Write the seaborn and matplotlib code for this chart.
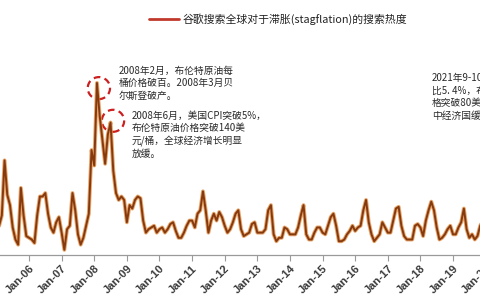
import numpy as np
import pandas as pd
import matplotlib
matplotlib.use("Agg")
import matplotlib.pyplot as plt
from matplotlib.lines import Line2D
from matplotlib.patches import Ellipse
import seaborn as sns

# Monthly search heat, starting Jan-2005
heat = [16, 17, 23, 55, 35, 29, 16, 9, 6, 39, 23, 11,
        10, 9, 7, 23, 34, 34, 36, 24, 16, 13, 19, 22,
        13, 3, 15, 17, 36, 26, 12, 6, 10, 17, 24, 61,
        52, 100, 81, 67, 53, 70, 77, 49, 36, 32, 34, 32,
        19, 29, 27, 32, 34, 33, 20, 13, 15, 16, 17, 13,
        15, 16, 13, 15, 18, 19, 14, 10, 10, 13, 17, 20,
        20, 16, 24, 26, 37, 26, 13, 20, 24, 20, 25, 22,
        17, 13, 15, 19, 24, 26, 15, 11, 12, 13, 18, 19,
        13, 13, 13, 15, 26, 29, 12, 8, 10, 10, 16, 15,
        12, 12, 12, 16, 23, 29, 12, 9, 9, 13, 16, 16,
        13, 12, 17, 22, 24, 17, 8, 8, 9, 12, 14, 17,
        14, 16, 17, 26, 32, 19, 12, 8, 10, 12, 19, 16,
        13, 13, 20, 27, 28, 17, 11, 9, 9, 9, 17, 18,
        16, 11, 20, 26, 31, 26, 16, 9, 10, 12, 15, 17,
        12, 12, 16, 19, 27, 15, 10, 12, 9, 11, 17, 20]
tick_labels = ["Jan-06", "Jan-07", "Jan-08", "Jan-09", "Jan-10", "Jan-11", "Jan-12",
               "Jan-13", "Jan-14", "Jan-15", "Jan-16", "Jan-17", "Jan-18", "Jan-19", "Jan-20"]
legend_label = "谷歌搜索全球对于滞胀(stagflation)的搜索热度"
note1 = "2008年2月，布伦特原油每\n桶价格破百。2008年3月贝\n尔斯登破产。"
note2 = "2008年6月，美国CPI突破5%，\n布伦特原油价格突破140美\n元/桶，全球经济增长明显\n放缓。"
note3 = "2021年9-10月，美国CPI同\n比5. 4%，布伦特原油价\n格突破80美元/桶，全球\n中经济国缓慢增长。"

df = pd.DataFrame({"month": np.arange(len(heat)), "heat": heat})

sns.set_theme(style="white")
plt.rcParams["font.family"] = ["Noto Sans CJK SC", "DejaVu Sans"]

fig = plt.figure(figsize=(4.8, 3.0), dpi=100)
fig.patch.set_facecolor("white")
ax = fig.add_axes([-3.6 / 480, 45 / 300, 500.1 / 480, 245 / 300])
ax.set_facecolor("white")

sns.lineplot(data=df, x="month", y="heat", ax=ax, color="#e0893a", lw=2.8, alpha=0.75)
sns.lineplot(data=df, x="month", y="heat", ax=ax, color="#85390f", lw=1.4)

ax.set_xlim(0, 184)
ax.set_ylim(0, 142.4)
ax.set_xlabel("")
ax.set_ylabel("")
ax.set_yticks([])
ticks = [12 * (i + 1) for i in range(len(tick_labels))]
ax.set_xticks(ticks)
ax.set_xticklabels(tick_labels, rotation=45, ha="right", rotation_mode="anchor",
                   fontsize=8, fontweight="bold", color="#3a3a3a",
                   family=["Liberation Sans", "DejaVu Sans"])
ax.tick_params(axis="x", direction="out", length=4, width=0.8, color="#9a9a9a", pad=2,
               bottom=True)
for s in ["top", "left", "right"]:
    ax.spines[s].set_visible(False)
ax.spines["bottom"].set_color("#9a9a9a")
ax.spines["bottom"].set_linewidth(0.9)

# dashed circles around the 2008 peaks
peak1 = int(np.argmax(heat))
peak2 = peak1 + 5
for m, v in [(peak1 + 0.7, heat[peak1] - 3), (peak2 + 0.9, heat[peak2] + 1)]:
    ax.add_patch(Ellipse((m, v), width=8.2, height=12.8, fill=False,
                         edgecolor="#cc2020", lw=1.6, ls=(0, (3, 2))))

txt_kw = dict(fontsize=7, color="#2a2a2a", linespacing=1.3, va="top", ha="left",
              transform=fig.transFigure)
fig.text(119 / 480, 1 - 66 / 300, note1, **txt_kw)
fig.text(132 / 480, 1 - 111 / 300, note2, **txt_kw)
fig.text(432 / 480, 1 - 73 / 300, note3, **txt_kw)

ax.legend(handles=[Line2D([0], [0], color="#c0392b", lw=2)], labels=[legend_label],
          loc="center", bbox_to_anchor=(0.58, 0.937), bbox_transform=fig.transFigure,
          frameon=False, fontsize=7.8, handlelength=2.7, handletextpad=0.4,
          labelcolor="#222222")

fig.savefig("out.png", dpi=100, facecolor="white")
